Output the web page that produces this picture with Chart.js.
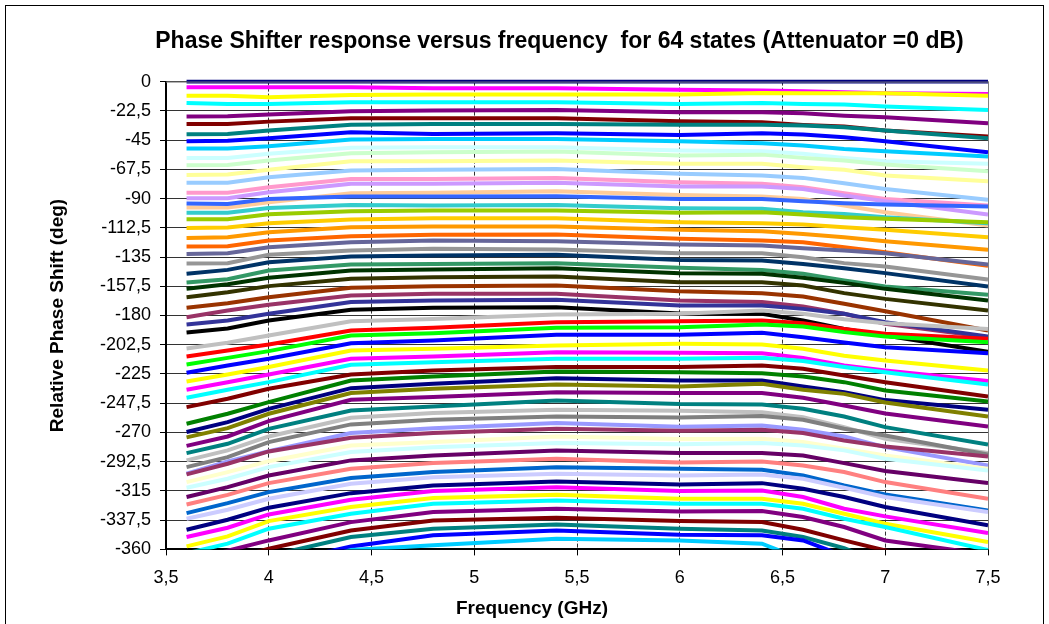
<!DOCTYPE html>
<html>
<head>
<meta charset="utf-8">
<script src="https://cdn.jsdelivr.net/npm/chart.js@4.4.1/dist/chart.umd.min.js"></script>
<style>
  html, body { margin: 0; padding: 0; background: #fff; overflow: hidden; }
  #wrap { position: relative; width: 1049px; height: 624px; overflow: hidden; }
  #frame { position: absolute; left: 5px; top: 5px; width: 1037px; height: 640px; border: 1px solid #000; pointer-events: none; }
  canvas { position: absolute; left: 0; top: 0; }
</style>
</head>
<body>
<div id="wrap">
  <canvas id="chart" width="1119" height="624"></canvas>
  <div id="frame"></div>
</div>
<script>
const titleText = 'Phase Shifter response versus frequency  for 64 states (Attenuator =0 dB)';
const xTitle = 'Frequency (GHz)';
const yTitle = 'Relative Phase Shift (deg)';

const freqs = [3.6, 3.8, 4.0, 4.4, 4.8, 5.4, 6.0, 6.4, 6.6, 6.8, 7.0, 7.5];

const xTickValues = [3.5, 4, 4.5, 5, 5.5, 6, 6.5, 7, 7.5];
const xTickLabels = ['3,5', '4', '4,5', '5', '5,5', '6', '6,5', '7', '7,5'];
const yTickValues = [0, -22.5, -45, -67.5, -90, -112.5, -135, -157.5, -180, -202.5, -225, -247.5, -270, -292.5, -315, -337.5, -360];
const yTickLabels = ['0', '-22,5', '-45', '-67,5', '-90', '-112,5', '-135', '-157,5', '-180', '-202,5', '-225', '-247,5', '-270', '-292,5', '-315', '-337,5', '-360'];

// one array per state, values at the freqs above (deg)
const s01 = [0, 0, 0, 0, 0, 0, 0, 0, 0, 0, 0, 0];
const s02 = [-4.4, -4.4, -4.4, -4.4, -5.1, -5.1, -6.2, -6.9, -7.4, -8.2, -9, -9.5];
const s03 = [-10.8, -10.8, -12.1, -10.3, -10, -10, -10, -8.7, -9, -9, -9, -10.8];
const s04 = [-16.4, -17.2, -17.2, -15.9, -15.9, -15.9, -17.2, -16.4, -17.2, -17.7, -19.2, -21.8];
const s05 = [-26.9, -26.7, -25.4, -22.8, -22.3, -21.8, -23.6, -23.6, -24.4, -26.2, -27.4, -32.1];
const s06 = [-32.6, -32.6, -30.8, -28.2, -28.2, -28.2, -30.5, -31.3, -33.3, -34.6, -37.7, -42.3];
const s07 = [-40.5, -40.3, -37.7, -33.3, -32.6, -32.6, -33.3, -33.3, -33.8, -35.1, -37.7, -43.6];
const s08 = [-45.9, -45.6, -43.6, -39, -40.3, -39.7, -41, -39.7, -40.8, -42.8, -45.9, -54.4];
const s09 = [-51.5, -51.5, -49.7, -44.6, -44.1, -44.1, -45.9, -47.4, -49.2, -51.8, -53.6, -57.7];
const s10 = [-58.7, -58.7, -55.6, -51, -50.5, -50.5, -53.1, -53.6, -55.6, -58.7, -61.3, -63.3];
const s11 = [-64.4, -64.1, -60.8, -55.1, -54.4, -53.8, -56.9, -56.2, -58.7, -60.8, -63.8, -69];
const s12 = [-71.8, -71.5, -67.9, -61.3, -61.3, -60.8, -63.3, -63.3, -65.9, -67.9, -72.3, -76.7];
const s13 = [-77.9, -77.9, -73.6, -68.5, -67.9, -67.2, -71, -72.3, -74.1, -78.2, -82.6, -91];
const s14 = [-85.6, -85.6, -81.3, -74.9, -74.9, -74.1, -77.4, -78.7, -81.3, -85.9, -90.3, -95.4];
const s15 = [-89.7, -89.7, -85.1, -78.7, -78.7, -77.9, -80.8, -80.8, -82.6, -87.7, -92, -102.3];
const s16 = [-96.9, -96.9, -92.8, -85.9, -85.6, -84.4, -87.2, -88.5, -90.3, -95.4, -100.5, -110.8];
const s17 = [-93.8, -94.1, -90.3, -88.5, -88.5, -88.2, -90.3, -90.3, -92, -93.6, -94.6, -96.2];
const s18 = [-101, -101, -97.2, -94.9, -95.4, -94.9, -97.4, -97.9, -100.5, -101.8, -104.4, -109];
const s19 = [-105.9, -105.9, -102.1, -99.7, -99.2, -99.2, -101, -100.5, -102.3, -104.4, -105.6, -108.2];
const s20 = [-112.6, -112.3, -109, -106.2, -105.1, -105.1, -108.2, -109, -110, -112.1, -114.1, -119.7];
const s21 = [-120.3, -119.7, -115.9, -112.1, -111.5, -111.5, -114.1, -115.1, -117.2, -119.7, -122.8, -129.5];
const s22 = [-126.9, -126.7, -122.3, -119, -117.9, -117.7, -121, -122.3, -123.6, -127.4, -131.3, -141.8];
const s23 = [-132.6, -132.1, -127.4, -123.6, -122.3, -122.8, -125.4, -126.2, -128.2, -130, -132.1, -140.8];
const s24 = [-140, -139.7, -133.3, -130, -128.7, -129.2, -132.1, -132.1, -135.1, -139.7, -142.3, -152.3];
const s25 = [-147.9, -144.9, -139, -134.6, -133.8, -133.3, -137.2, -137.7, -140.3, -143.6, -147.4, -157.7];
const s26 = [-154.6, -152.1, -145.4, -140.8, -140.3, -139.7, -143.3, -144.9, -147.9, -153.1, -157.7, -164.1];
const s27 = [-159.5, -155.9, -151, -145.4, -144.6, -143.6, -147.4, -147.9, -151, -154.9, -159.5, -168.5];
const s28 = [-165.9, -162.1, -157.4, -151.8, -150.5, -150, -154.4, -154.4, -156.9, -162.8, -167.2, -176.2];
const s29 = [-174.1, -170.5, -165.9, -158.7, -157.4, -156.9, -161.3, -162.8, -165.4, -171, -176.7, -191.5];
const s30 = [-181.3, -176.2, -171.8, -164.6, -163.3, -163.3, -168.5, -169.7, -173.1, -178.7, -186.4, -196.7];
const s31 = [-186.9, -183.8, -178.7, -169.7, -168.5, -167.9, -172.3, -172.3, -174.9, -178.7, -185.1, -196.2];
const s32 = [-193.1, -190, -183.8, -175.6, -174.1, -173.6, -178.5, -178.7, -183.8, -190.3, -195.4, -207.9];
const s33 = [-205.4, -201, -195.4, -184.4, -182.6, -179.2, -178.7, -176.2, -178.7, -182.8, -185.9, -190.3];
const s34 = [-211.5, -206.9, -202.3, -191.5, -189.5, -185.1, -184.4, -183.8, -185.9, -190.3, -194.1, -197.9];
const s35 = [-217.7, -212.6, -207.4, -195.4, -193.6, -189.5, -189, -186.9, -188.5, -192.8, -196.2, -200.5];
const s36 = [-224.1, -218.5, -213.3, -201.3, -199.2, -194.9, -194.9, -193.3, -196.7, -200.8, -204.4, -209];
const s37 = [-230.8, -225.4, -219.7, -206.9, -205.6, -203.1, -201.8, -202.3, -205.6, -211, -214.6, -222.3];
const s38 = [-237.2, -231.3, -225.4, -213.3, -211.5, -208.2, -208.7, -209, -212.6, -218.5, -222.3, -230.5];
const s39 = [-243.3, -237.2, -231.3, -217.9, -215.9, -213.3, -213.3, -212.6, -215.1, -219.7, -223.6, -233.1];
const s40 = [-250.5, -244.1, -236.4, -225.4, -222.3, -219.7, -219.7, -218.5, -221, -226.2, -231.3, -242.3];
const s41 = [-263.3, -255.6, -246.7, -230, -226.9, -223.1, -223.6, -224.4, -226.9, -231.3, -237.7, -246.2];
const s42 = [-269.7, -262.1, -251.8, -235.9, -232.6, -228.2, -230, -230, -234.6, -239, -245.1, -252.6];
const s43 = [-273.8, -266.7, -255.6, -239.7, -236.4, -233.1, -234.6, -232.6, -237.2, -240.3, -246.9, -257.7];
const s44 = [-280.3, -273.1, -261.3, -244.9, -242.8, -239, -239.7, -239.7, -243.3, -249.2, -255.4, -265.4];
const s45 = [-285.9, -278.7, -267.2, -253.1, -250, -245.4, -248.2, -248.5, -251.8, -257.7, -265.9, -279.2];
const s46 = [-291.5, -283.8, -273.1, -258.7, -255.1, -252.6, -253.3, -254.4, -258.2, -265.9, -274.9, -285.9];
const s47 = [-296.7, -289, -277.4, -263.8, -260.3, -257.7, -258.5, -257.4, -260.3, -267.2, -272.3, -286.9];
const s48 = [-301.8, -292.3, -284.4, -270.5, -266.7, -262.8, -265.6, -264.6, -267.9, -273.1, -281.3, -295.4];
const s49 = [-302.3, -294.1, -284.6, -274.1, -270.5, -267.2, -268.7, -267.9, -270.5, -276.2, -280.8, -288.5];
const s50 = [-308.2, -300.5, -292.1, -280, -277.4, -273.1, -275.1, -274.9, -277.4, -282.6, -287.7, -297.9];
const s51 = [-312.6, -305.6, -296.7, -285.1, -281.3, -278.2, -279, -278.2, -280, -283.8, -290.3, -299.2];
const s52 = [-319.7, -312.1, -303.1, -291.5, -287.7, -283.8, -285.9, -285.9, -287.7, -293.6, -299.7, -309];
const s53 = [-325.4, -318, -309, -297.9, -293.6, -290.3, -293.1, -292.3, -295.4, -300.5, -308.2, -321];
const s54 = [-332.1, -324.4, -315.9, -305.1, -300.5, -296.7, -297.9, -298.7, -303.1, -310.8, -317.7, -330];
const s55 = [-336.4, -329.5, -321, -309.5, -304.4, -301.8, -303.1, -302.3, -305.6, -312.6, -319.7, -331.3];
const s56 = [-344.9, -337.2, -327.9, -316.7, -310.8, -307.7, -310, -309, -313.3, -319.7, -327.4, -341.5];
const s57 = [-350.5, -343.3, -333.1, -321.8, -315.1, -312.1, -315.1, -314.6, -319.7, -328.7, -334.6, -347.4];
const s58 = [-357.7, -350, -338.2, -327.4, -320.5, -318, -321, -321, -324.9, -332.6, -340.3, -354.4];
const s59 = [-363, -355.6, -344.1, -332.6, -324.9, -322.3, -324.9, -324.9, -328.7, -336.4, -342.8, -360.5];
const s60 = [-370, -361, -353.1, -339, -331.3, -328.7, -330.8, -330.5, -335.1, -342.8, -353.1, -364];
const s61 = [-378, -368, -359.5, -345.4, -337.7, -335.6, -338.2, -339, -344.9, -353.1, -360.8, -385];
const s62 = [-385, -375, -365, -350.5, -344.1, -340.8, -344.1, -345.4, -350.5, -359, -372, -395];
const s63 = [-392, -382, -372, -357.7, -349.2, -345.4, -348.7, -349.2, -353.1, -365, -375, -400];
const s64 = [-400, -388, -378, -360.5, -356.9, -351.8, -353.1, -355.6, -368, -380, -390, -410];

const states = [s01, s02, s03, s04, s05, s06, s07, s08, s09, s10, s11, s12, s13, s14, s15, s16,
  s17, s18, s19, s20, s21, s22, s23, s24, s25, s26, s27, s28, s29, s30, s31, s32,
  s33, s34, s35, s36, s37, s38, s39, s40, s41, s42, s43, s44, s45, s46, s47, s48,
  s49, s50, s51, s52, s53, s54, s55, s56, s57, s58, s59, s60, s61, s62, s63, s64];

const seriesColors = [
  '#000080', '#FF00FF', '#FFFF00', '#00FFFF', '#800080', '#800000', '#008080', '#0000FF',
  '#00CCFF', '#CCFFFF', '#CCFFCC', '#FFFF99', '#99CCFF', '#FF99CC', '#CC99FF', '#FFCC99',
  '#3366FF', '#33CCCC', '#99CC00', '#FFCC00', '#FF9900', '#FF6600', '#666699', '#969696',
  '#003366', '#339966', '#003300', '#333300', '#993300', '#993366', '#333399', '#000000',
  '#C0C0C0', '#FF0000', '#00FF00', '#0000FF', '#FFFF00', '#FF00FF', '#00FFFF', '#800000',
  '#008000', '#000080', '#808000', '#800080', '#008080', '#C0C0C0', '#808080', '#9999FF',
  '#993366', '#FFFFCC', '#CCFFFF', '#660066', '#FF8080', '#0066CC', '#CCCCFF', '#000080',
  '#FF00FF', '#FFFF00', '#00FFFF', '#800080', '#800000', '#008080', '#0000FF', '#00CCFF'
];

Chart.defaults.font.family = '"Liberation Sans", Arial, sans-serif';
Chart.defaults.color = '#000';

// x axis title sits left of the plot centre, plus the grey plot border on top/right
const extras = {
    id: 'extras',
    afterDraw(chart) {
        const ctx = chart.ctx;
        const a = chart.chartArea;
        ctx.save();
        ctx.strokeStyle = '#808080';
        ctx.lineWidth = 1;
        ctx.beginPath();
        ctx.moveTo(a.left, a.top + 0.5);
        ctx.lineTo(a.right + 0.5, a.top + 0.5);
        ctx.lineTo(a.right + 0.5, a.bottom);
        ctx.stroke();
        ctx.font = 'bold 19px "Liberation Sans", Arial, sans-serif';
        ctx.fillStyle = '#000';
        ctx.textAlign = 'center';
        ctx.textBaseline = 'alphabetic';
        ctx.fillText(xTitle, 532, 614);
        ctx.restore();
    }
};

const datasets = states.map((vals, i) => ({
    label: 'State ' + (i + 1),
    data: vals.map((v, j) => ({ x: freqs[j], y: v })),
    borderColor: seriesColors[i],
    backgroundColor: seriesColors[i],
    borderWidth: 4,
    pointRadius: 0,
    fill: false,
    tension: 0,
    order: states.length - i,
    clip: { left: 0, top: 2, right: 0, bottom: 0 }
}));

new Chart(document.getElementById('chart').getContext('2d'), {
    type: 'line',
    data: { datasets: datasets },
    plugins: [extras],
    options: {
        responsive: false,
        animation: false,
        devicePixelRatio: 1,
        layout: { padding: { left: 0, right: 0, top: 0, bottom: 23 } },
        plugins: {
            legend: { display: false },
            tooltip: { enabled: false },
            title: {
                display: true,
                text: titleText,
                color: '#000',
                font: { size: 23, weight: 'bold' },
                padding: { top: 28, bottom: 26 }
            }
        },
        scales: {
            x: {
                type: 'linear',
                min: 3.5,
                max: 7.5,
                afterBuildTicks: (scale) => { scale.ticks = xTickValues.map(v => ({ value: v })); },
                ticks: {
                    autoSkip: false,
                    maxRotation: 0,
                    padding: 12,
                    font: { size: 18 },
                    color: '#000',
                    callback: (v) => xTickLabels[xTickValues.indexOf(v)]
                },
                grid: { color: '#333', lineWidth: 1, tickLength: 6, tickColor: '#000', tickWidth: 1 },
                border: { display: true, color: '#000', width: 2, dash: [4, 2] }
            },
            y: {
                min: -360,
                max: 0,
                afterBuildTicks: (scale) => { scale.ticks = yTickValues.map(v => ({ value: v })); },
                afterFit: (scale) => { scale.width = 166; },
                ticks: {
                    autoSkip: false,
                    padding: 9,
                    font: { size: 18 },
                    color: '#000',
                    callback: (v) => yTickLabels[yTickValues.indexOf(v)]
                },
                grid: { color: '#333', lineWidth: 1, tickLength: 6, tickColor: '#000', tickWidth: 1 },
                border: { display: true, color: '#000', width: 2 },
                title: {
                    display: true,
                    text: yTitle,
                    color: '#000',
                    font: { size: 19, weight: 'bold' },
                    padding: { top: 46, bottom: 0 }
                }
            },
            // empty right-hand box so the title centres where the original has it
            yRight: {
                position: 'right',
                display: true,
                afterFit: (scale) => { scale.width = 131; },
                ticks: { display: false },
                grid: { display: false, drawTicks: false },
                border: { display: false }
            }
        }
    }
});
</script>
</body>
</html>
